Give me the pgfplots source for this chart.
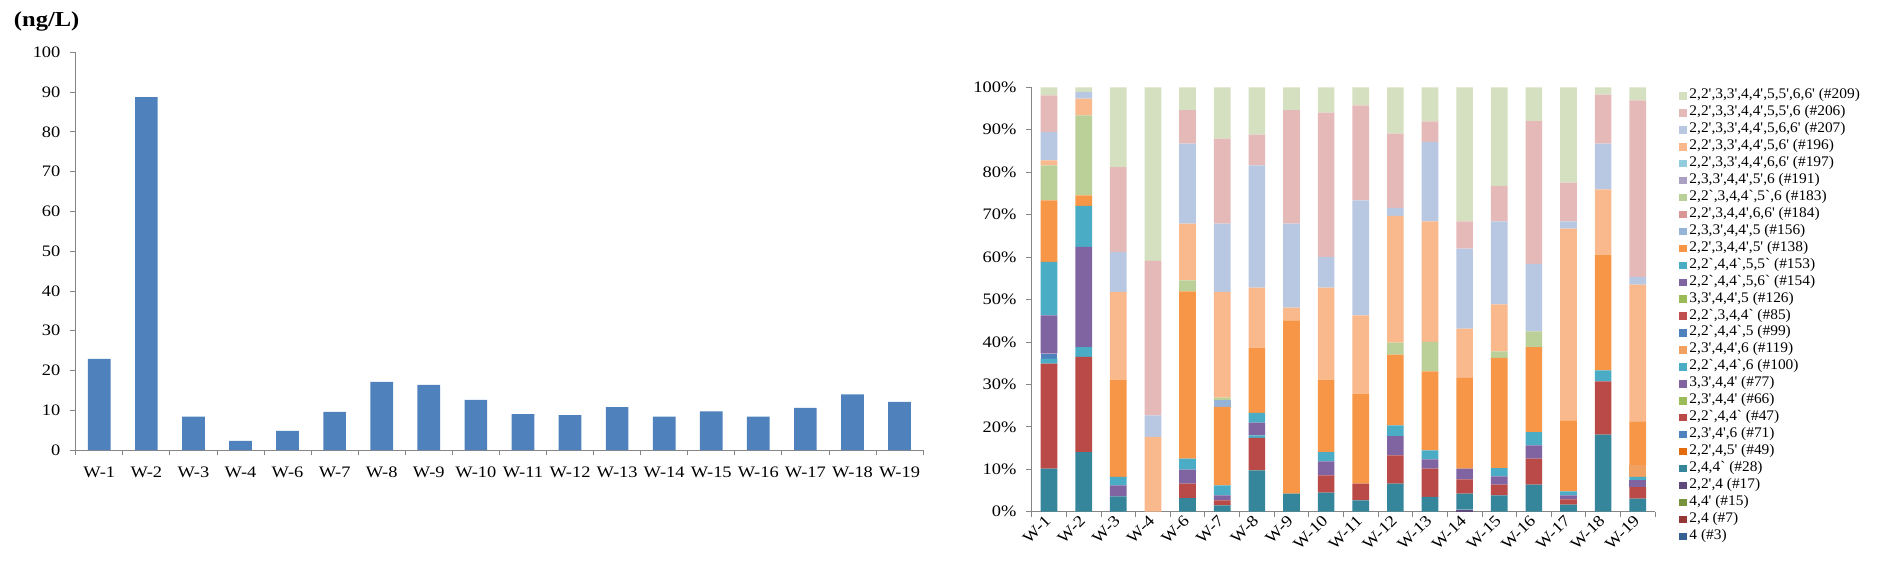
\documentclass[border=0pt]{standalone}
\usepackage{fontspec}
\setmainfont{Liberation Serif}[FakeStretch=1.15]
\newfontfamily\legfont{Liberation Serif}[FakeStretch=1.05]
\usepackage{pgfplots}
\usepackage{pgfplotstable}
\pgfplotsset{compat=1.18}

\definecolor{axisgray}{HTML}{868686}
\definecolor{barblue}{HTML}{4F81BD}
\definecolor{c3}{HTML}{366092}
\definecolor{c7}{HTML}{953735}
\definecolor{c15}{HTML}{77933C}
\definecolor{c17}{HTML}{604A7B}
\definecolor{c28}{HTML}{35869B}
\definecolor{c49}{HTML}{E46C0A}
\definecolor{c71}{HTML}{4F81BD}
\definecolor{c47}{HTML}{B94A48}
\definecolor{c66}{HTML}{9BBB59}
\definecolor{c77}{HTML}{8064A2}
\definecolor{c100}{HTML}{4BACC6}
\definecolor{c119}{HTML}{F0A060}
\definecolor{c99}{HTML}{4F81BD}
\definecolor{c85}{HTML}{C0504D}
\definecolor{c126}{HTML}{9BBB59}
\definecolor{c154}{HTML}{8064A2}
\definecolor{c153}{HTML}{4BACC6}
\definecolor{c138}{HTML}{F79646}
\definecolor{c156}{HTML}{95B3D7}
\definecolor{c184}{HTML}{D99694}
\definecolor{c183}{HTML}{BBCF99}
\definecolor{c191}{HTML}{A9A0C4}
\definecolor{c197}{HTML}{93CDDD}
\definecolor{c196}{HTML}{F9B98D}
\definecolor{c207}{HTML}{B9C8E2}
\definecolor{c206}{HTML}{E5B9B8}
\definecolor{c209}{HTML}{D4E0BF}

\pgfplotstableread{
x s3 s7 s15 s17 s28 s49 s71 s47 s66 s77 s100 s119 s99 s85 s126 s154 s153 s138 s156 s184 s183 s191 s197 s196 s207 s206 s209
0 0 0 0 0 10.13 0 0 24.75 0 0 1.18 0 1.17 0 0 9.04 12.57 14.53 0 0 8.25 0 0 1.18 6.67 8.63 1.90
1 0 0 0 0 14.06 0 0 22.39 0 0 2.35 0 0 0 0 23.57 9.66 2.52 0 0 18.85 0 0 3.93 1.57 0 1.10
2 0 0 0 0 3.61 0 0 0 0 0 0 0 0 0 0 2.60 1.96 22.93 0 0 0 0 0 20.67 9.42 20.01 18.80
3 0 0 0 0 0 0 0 0 0 0 0 0 0 0 0 0 0 0 0 0 0 0 0 17.60 5.10 36.37 40.93
4 0 0 0 0 3.20 0 0 3.40 0 0 0 0 0 0 0 3.30 2.60 39.40 0 0 2.60 0 0 13.40 18.80 7.90 5.40
5 0 0 0 0 1.50 0 0 1.17 0 0 0 0 0 0 0 1.18 2.35 18.47 1.60 0 0.60 0 0 24.90 16.10 20.03 12.10
6 0 0 0 0 9.74 0 0 7.62 0 0 0.63 0 0 0 0 2.98 2.28 15.40 0 0 0 0 0 14.14 28.81 7.25 11.15
7 0 0 0 0 4.24 0 0 0 0 0 0 0 0 0 0 0 0 40.85 0 0 0 0 0 2.99 19.79 26.73 5.40
8 0 0 0 0 4.48 0 0 4.08 0 0 0 0 0 0 0 3.30 2.20 17.04 0 0 0 0 0 21.70 7.22 34.01 5.97
9 0 0 0 0 2.67 0 0 3.93 0 0 0 0 0 0 0 0 0 21.20 0 0 0 0 0 18.47 27.10 22.39 4.24
10 0 0 0 0 6.60 0 0 6.68 0 0 0 0 0 0 0 4.55 2.52 16.65 0 0 2.83 0 0 29.85 1.88 17.52 10.92
11 0 0 0 0 3.46 0 0 6.67 0 0 0 0 0 0 0 2.20 2.12 18.62 0 0 6.91 0 0 28.44 18.70 4.87 8.01
12 0 0 0 0.50 3.74 0 0 3.38 0 0 0 0 0 0 0 2.51 0 21.37 0 0 0 0 0 11.63 18.85 6.44 31.58
13 0 0 0 0 3.85 0 0 2.51 0 0 0 0 0 0 0 1.97 1.96 25.92 0 0 1.57 0 0 11.08 19.56 8.33 23.25
14 0 0 0 0 6.36 0 0 6.13 0 0 0 0 0 0 0 3.14 3.14 20.03 0 0 3.70 0 0 0 15.90 33.60 8.00
15 0 0 0 0 1.65 0 0 1.25 0 0 0 0 0 0 0 0.95 0.94 16.73 0 0 0 0 0 45.17 1.73 9.11 22.47
16 0 0 0 0 18.15 0 0 12.56 0 0 0 0 0 0 0 0 2.59 27.27 0 0 0 0 0 15.39 10.76 11.55 1.73
17 0 0 0 0 3.06 0 0 2.75 0 1.57 0.79 2.75 0 0 0 0 0 10.37 0 0 0 0 0 32.21 1.80 41.64 3.06
}\pcb

\pgfplotsset{
  common/.style={
    scale only axis,
    axis x line*=bottom, axis y line*=left,
    axis line style={draw=axisgray,-},
    xmin=-0.5, xmax=17.5, ymin=0, ymax=100,
    ytick={0,10,...,100},
    xtick={0,...,17},
    xticklabels={W-1,W-2,W-3,W-4,W-6,W-7,W-8,W-9,W-10,W-11,W-12,W-13,W-14,W-15,W-16,W-17,W-18,W-19},
    minor xtick={-0.5,0.5,...,17.5},
    major x tick style={draw=none},
    tick align=outside,
    tick style={draw=axisgray, line width=0.6pt},
    major tick length=4pt, minor tick length=4pt,
    ticklabel style={font=\fontsize{12}{14}\selectfont},
    /pgf/number format/assume math mode=true,
  }
}

\begin{document}
\begin{tikzpicture}
\path[use as bounding box] (0,0) rectangle (1410pt,440.25pt);

\begin{axis}[common,
  at={(56.8pt,102.75pt)}, anchor=south west,
  width=635.5pt, height=298.3pt,
  ybar, bar width=17pt,
  yticklabel style={xshift=-4pt},
  xticklabel style={yshift=-5pt},
]
\addplot[fill=barblue, draw=none] coordinates {
(0,22.9) (1,88.7) (2,8.4) (3,2.3) (4,4.8) (5,9.6) (6,17.1) (7,16.4) (8,12.6)
(9,9.05) (10,8.8) (11,10.8) (12,8.4) (13,9.7) (14,8.4) (15,10.6) (16,14.0) (17,12.1)};
\end{axis}
\node[font=\bfseries\fontsize{16}{18}\selectfont] at (35pt,424pt) {(ng/L)};

\begin{axis}[common,
  at={(773.8pt,56.5pt)}, anchor=south west,
  width=467.5pt, height=318.3pt,
  ybar stacked, bar width=12.5pt,
  yticklabel={\pgfmathprintnumber{\tick}\%},
  yticklabel style={xshift=-4pt},
  xticklabel style={rotate=45, anchor=east, inner sep=1pt},
  every axis plot/.append style={draw=none,
    legend image code/.code={\fill[##1] (0pt,-2.8pt) rectangle (5.6pt,2.8pt);}},
  reverse legend,
  legend cell align=left,
  legend style={at={(rel axis cs:1,1)}, anchor=north west, xshift=18pt,
    draw=none, fill=none, inner sep=0pt, row sep=0pt,
    font=\legfont\fontsize{11}{12}\selectfont,
    nodes={inner xsep=2pt, inner ysep=0pt, text height=8.5pt, text depth=4.2pt}},
]
\addplot[fill=c3] table[x=x,y=s3]{\pcb}; \addlegendentry{4 (\#3)}
\addplot[fill=c7] table[x=x,y=s7]{\pcb}; \addlegendentry{2,4 (\#7)}
\addplot[fill=c15] table[x=x,y=s15]{\pcb}; \addlegendentry{4,4' (\#15)}
\addplot[fill=c17] table[x=x,y=s17]{\pcb}; \addlegendentry{2,2',4 (\#17)}
\addplot[fill=c28] table[x=x,y=s28]{\pcb}; \addlegendentry{2,4,4` (\#28)}
\addplot[fill=c49] table[x=x,y=s49]{\pcb}; \addlegendentry{2,2',4,5' (\#49)}
\addplot[fill=c71] table[x=x,y=s71]{\pcb}; \addlegendentry{2,3',4',6 (\#71)}
\addplot[fill=c47] table[x=x,y=s47]{\pcb}; \addlegendentry{2,2`,4,4` (\#47)}
\addplot[fill=c66] table[x=x,y=s66]{\pcb}; \addlegendentry{2,3',4,4' (\#66)}
\addplot[fill=c77] table[x=x,y=s77]{\pcb}; \addlegendentry{3,3',4,4' (\#77)}
\addplot[fill=c100] table[x=x,y=s100]{\pcb}; \addlegendentry{2,2`,4,4`,6 (\#100)}
\addplot[fill=c119] table[x=x,y=s119]{\pcb}; \addlegendentry{2,3',4,4',6 (\#119)}
\addplot[fill=c99] table[x=x,y=s99]{\pcb}; \addlegendentry{2,2`,4,4`,5 (\#99)}
\addplot[fill=c85] table[x=x,y=s85]{\pcb}; \addlegendentry{2,2`,3,4,4` (\#85)}
\addplot[fill=c126] table[x=x,y=s126]{\pcb}; \addlegendentry{3,3',4,4',5 (\#126)}
\addplot[fill=c154] table[x=x,y=s154]{\pcb}; \addlegendentry{2,2`,4,4`,5,6` (\#154)}
\addplot[fill=c153] table[x=x,y=s153]{\pcb}; \addlegendentry{2,2`,4,4`,5,5` (\#153)}
\addplot[fill=c138] table[x=x,y=s138]{\pcb}; \addlegendentry{2,2',3,4,4',5' (\#138)}
\addplot[fill=c156] table[x=x,y=s156]{\pcb}; \addlegendentry{2,3,3',4,4',5 (\#156)}
\addplot[fill=c184] table[x=x,y=s184]{\pcb}; \addlegendentry{2,2',3,4,4',6,6' (\#184)}
\addplot[fill=c183] table[x=x,y=s183]{\pcb}; \addlegendentry{2,2`,3,4,4`,5`,6 (\#183)}
\addplot[fill=c191] table[x=x,y=s191]{\pcb}; \addlegendentry{2,3,3',4,4',5',6 (\#191)}
\addplot[fill=c197] table[x=x,y=s197]{\pcb}; \addlegendentry{2,2',3,3',4,4',6,6' (\#197)}
\addplot[fill=c196] table[x=x,y=s196]{\pcb}; \addlegendentry{2,2',3,3',4,4',5,6' (\#196)}
\addplot[fill=c207] table[x=x,y=s207]{\pcb}; \addlegendentry{2,2',3,3',4,4',5,6,6' (\#207)}
\addplot[fill=c206] table[x=x,y=s206]{\pcb}; \addlegendentry{2,2',3,3',4,4',5,5',6 (\#206)}
\addplot[fill=c209] table[x=x,y=s209]{\pcb}; \addlegendentry{2,2',3,3',4,4',5,5',6,6' (\#209)}
\end{axis}
\end{tikzpicture}
\end{document}
